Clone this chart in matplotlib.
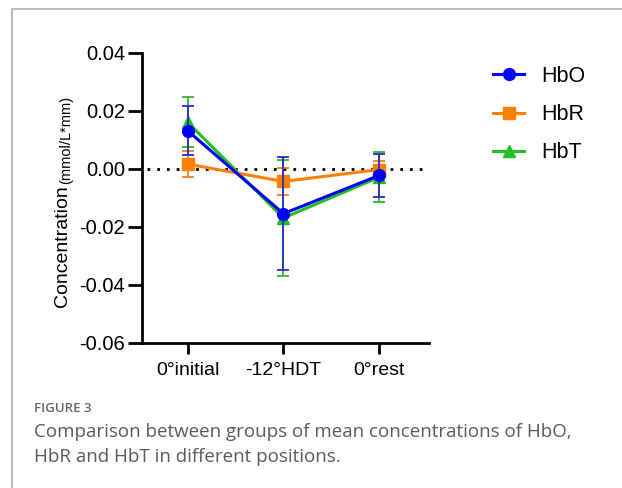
import matplotlib
matplotlib.use("Agg")
import matplotlib.pyplot as plt
from matplotlib.lines import Line2D

categories = ["0°initial", "-12°HDT", "0°rest"]
hbo_mean = [0.0132, -0.0154, -0.0022]
hbo_err = [0.0085, 0.0195, 0.0075]
hbr_mean = [0.0017, -0.0043, -0.0002]
hbr_err = [0.0045, 0.0048, 0.0030]
hbt_mean = [0.0161, -0.0169, -0.0028]
hbt_err = [0.0086, 0.0200, 0.0085]
yticks = [-0.06, -0.04, -0.02, 0.00, 0.02, 0.04]

W, H = 622, 488
fig = plt.figure(figsize=(W / 100, H / 100), dpi=100)
plt.rcParams['font.family'] = ['Liberation Sans', 'DejaVu Sans']

ax = fig.add_axes([141.7 / W, 1 - 343 / H, (429 - 141.7) / W, (343 - 53) / H])
x = list(range(len(categories)))

ax.axhline(0, xmin=0.02, xmax=0.99, color="black", lw=2, linestyle=(0, (1, 2.5)), zorder=1)

series = [
    ("HbT", hbt_mean, hbt_err, "#1FC01F", "#2DB82D", "^"),
    ("HbR", hbr_mean, hbr_err, "#FF8000", "#F08020", "s"),
    ("HbO", hbo_mean, hbo_err, "#0000FF", "#2A2AC8", "o"),
]
handles = {}
for i, (name, m, e, c, ec, mk) in enumerate(series):
    ax.errorbar(x, m, yerr=e, fmt="none", ecolor=ec, elinewidth=1.3,
                capsize=4, capthick=1.3, zorder=2 + i)
    ax.plot(x, m, color=c, lw=2.2, marker=mk, markersize=8.5, zorder=2.5 + i)
    handles[name] = Line2D([], [], color=c, lw=2.2, marker=mk, markersize=8.5)

ax.set_xlim(-0.48, 2.52)
ax.set_ylim(-0.06, 0.04)
ax.set_yticks(yticks)
ax.set_yticklabels([f"{v:.2f}" for v in yticks])
ax.set_xticks(x)
ax.set_xticklabels(categories)
for s in ["top", "right"]:
    ax.spines[s].set_visible(False)
for s in ["left", "bottom"]:
    ax.spines[s].set_linewidth(2)
ax.tick_params(axis="y", length=10, width=2, labelsize=14.5, pad=2)
ax.tick_params(axis="x", length=8, width=2, labelsize=14, pad=5.5)

leg = fig.legend([handles["HbO"], handles["HbR"], handles["HbT"]], ["HbO", "HbR", "HbT"],
                 loc="upper left", bbox_to_anchor=(493 / W, 1 - 66 / H), frameon=False,
                 fontsize=15.5, handlelength=1.45, handletextpad=0.8, labelspacing=0.8,
                 borderaxespad=0, borderpad=0)

main = fig.text(67 / W, 1 - 307 / H, "Concentration", rotation=90, rotation_mode="anchor",
                ha="left", va="baseline", fontsize=14)
fig.canvas.draw()
bb = main.get_window_extent(renderer=fig.canvas.get_renderer())
fig.text(70 / W, (bb.y1 + 1) / H, "(mmol/L*mm)", rotation=90, rotation_mode="anchor",
         ha="left", va="baseline", fontsize=10.5)

# frame lines
fig.add_artist(Line2D([12 / W, 12 / W, 1], [0, 1 - 9 / H, 1 - 9 / H], color="#BBBBBB", lw=1.5))

cap_font = ["Open Sans", "DejaVu Sans"]
fig.text(34 / W, 1 - 409 / H, "FIGURE 3", fontsize=9.5, color="#666666", family=cap_font,
         va="center", fontweight="semibold")
fig.text(34 / W, 1 - 432 / H, "Comparison between groups of mean concentrations of HbO,",
         fontsize=13.5, color="#5A5A5A", family=cap_font, va="center")
fig.text(34 / W, 1 - 457 / H, "HbR and HbT in different positions.",
         fontsize=13.5, color="#5A5A5A", family=cap_font, va="center")

fig.savefig("out.png", dpi=100)
